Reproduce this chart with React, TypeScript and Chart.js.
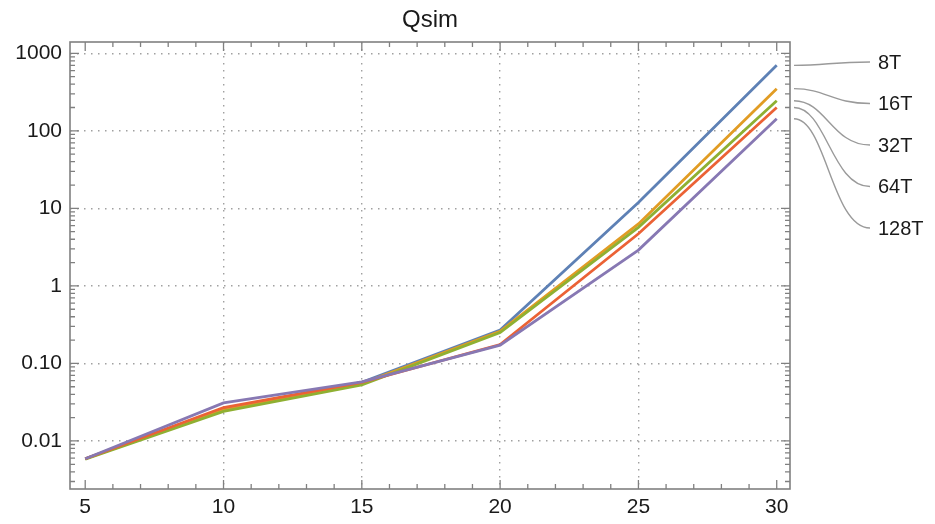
import React, { useEffect, useRef } from "react";
import { Chart, registerables } from "chart.js";

Chart.register(...registerables);

const xValues = [5, 10, 15, 20, 25, 30];
const seriesNames = ["8T", "16T", "32T", "64T", "128T"];
const s8T = [0.0059, 0.026, 0.057, 0.27, 11.9, 700];
const s16T = [0.0059, 0.025, 0.055, 0.26, 6.3, 350];
const s32T = [0.0058, 0.024, 0.053, 0.25, 5.7, 245];
const s64T = [0.0059, 0.027, 0.057, 0.175, 4.7, 200];
const s128T = [0.0059, 0.031, 0.058, 0.172, 2.9, 143];
const seriesValues = [s8T, s16T, s32T, s64T, s128T];
const seriesColors = ["#5E81B5", "#E19C24", "#8FB032", "#EB6235", "#8778B3"];
const xTickValues = [5, 10, 15, 20, 25, 30];
const yTickValues = [0.01, 0.1, 1, 10, 100, 1000];
const yTickLabels = ["0.01", "0.10", "1", "10", "100", "1000"];

const FONT = "'Liberation Sans', Arial, Helvetica, sans-serif";
const TEXT = "#1a1a1a";
const FRAME = "#808080";

const framePlugin = {
  id: "frameAndCallouts",
  afterDatasetsDraw(chart: any) {
    const { ctx, chartArea: a, scales } = chart;
    const xs = scales.x;
    const ys = scales.y;
    ctx.save();
    ctx.strokeStyle = FRAME;
    ctx.lineWidth = 1.6;
    ctx.strokeRect(a.left, a.top, a.right - a.left, a.bottom - a.top);
    ctx.lineWidth = 1.3;
    ctx.beginPath();
    for (let v = 5; v <= 30; v++) {
      const px = xs.getPixelForValue(v);
      const len = v % 5 === 0 ? 9 : 5;
      ctx.moveTo(px, a.bottom);
      ctx.lineTo(px, a.bottom - len);
      ctx.moveTo(px, a.top);
      ctx.lineTo(px, a.top + len);
    }
    for (let d = -3; d <= 3; d++) {
      for (let m = 1; m <= 9; m++) {
        const v = m * Math.pow(10, d);
        if (v < ys.min || v > ys.max) continue;
        const py = ys.getPixelForValue(v);
        const len = m === 1 ? 9 : 5;
        ctx.moveTo(a.left, py);
        ctx.lineTo(a.left + len, py);
        ctx.moveTo(a.right, py);
        ctx.lineTo(a.right - len, py);
      }
    }
    ctx.stroke();

    // callouts
    ctx.strokeStyle = "#9a9a9a";
    ctx.lineWidth = 1.4;
    ctx.fillStyle = TEXT;
    ctx.font = "20px " + FONT;
    ctx.textAlign = "left";
    ctx.textBaseline = "middle";
    seriesNames.forEach((name, i) => {
      const vals = seriesValues[i];
      const y0 = ys.getPixelForValue(vals[vals.length - 1]);
      const x0 = a.right + 4;
      const x1 = a.right + 80;
      const y1 = a.top + 20 + i * 41.5;
      ctx.beginPath();
      ctx.moveTo(x0, y0);
      ctx.bezierCurveTo(x0 + 32, y0, x1 - 38, y1, x1, y1);
      ctx.stroke();
      ctx.fillText(name, x1 + 8, y1 + 1);
    });
    ctx.restore();
  },
};

export default function App() {
  const ref = useRef<HTMLCanvasElement>(null);
  useEffect(() => {
    if (!ref.current) return;
    const chart = new Chart(ref.current, {
      type: "line",
      data: {
        datasets: seriesNames.map((n, i) => ({
          label: n,
          data: xValues.map((x, j) => ({ x, y: seriesValues[i][j] })),
          borderColor: seriesColors[i],
          backgroundColor: seriesColors[i],
          borderWidth: 2.8,
          pointRadius: 0,
          fill: false,
          tension: 0,
          order: 4 - i,
        })),
      },
      options: {
        animation: false,
        responsive: true,
        maintainAspectRatio: false,
        layout: { padding: { left: 0, right: 145, top: 0, bottom: 0 } },
        plugins: {
          legend: { display: false },
          tooltip: { enabled: false },
          title: {
            display: true,
            text: "Qsim",
            fullSize: false,
            color: TEXT,
            font: { size: 24, family: FONT, weight: "normal" },
            padding: { top: 6, bottom: 7.2 },
          },
        },
        scales: {
          x: {
            type: "linear",
            min: 4.45,
            max: 30.48,
            afterBuildTicks: (s: any) => {
              s.ticks = xTickValues.map((v) => ({ value: v }));
            },
            afterFit: (s: any) => {
              s.height = 35;
            },
            grid: {
              color: (c: any) =>
                c.tick && (c.tick.value === 5 || c.tick.value === 30) ? "rgba(0,0,0,0)" : "#a0a0a0",
              lineWidth: 1.4,
              drawTicks: false,
            },
            border: { display: false, dash: [1.5, 5.5] },
            ticks: {
              color: TEXT,
              font: { size: 21, family: FONT },
              padding: 6,
              maxRotation: 0,
              autoSkip: false,
            },
          },
          y: {
            type: "logarithmic",
            min: 0.0024,
            max: 1400,
            afterBuildTicks: (s: any) => {
              s.ticks = yTickValues.map((v) => ({ value: v }));
            },
            afterFit: (s: any) => {
              s.width = 70;
            },
            grid: { color: "#a0a0a0", lineWidth: 1.4, drawTicks: false },
            border: { display: false, dash: [1.5, 5.5] },
            ticks: {
              color: TEXT,
              font: { size: 21, family: FONT },
              padding: 8,
              autoSkip: false,
              callback: (value: any) => {
                const idx = yTickValues.findIndex(
                  (t) => Math.abs(Math.log10(t) - Math.log10(Number(value))) < 1e-6
                );
                return idx >= 0 ? yTickLabels[idx] : "";
              },
            },
          },
        },
      },
      plugins: [framePlugin],
    } as any);
    return () => chart.destroy();
  }, []);
  return (
    <div style={{ position: "fixed", left: 0, top: 0, width: 935, height: 524, background: "#fff" }}>
      <canvas ref={ref} />
    </div>
  );
}
